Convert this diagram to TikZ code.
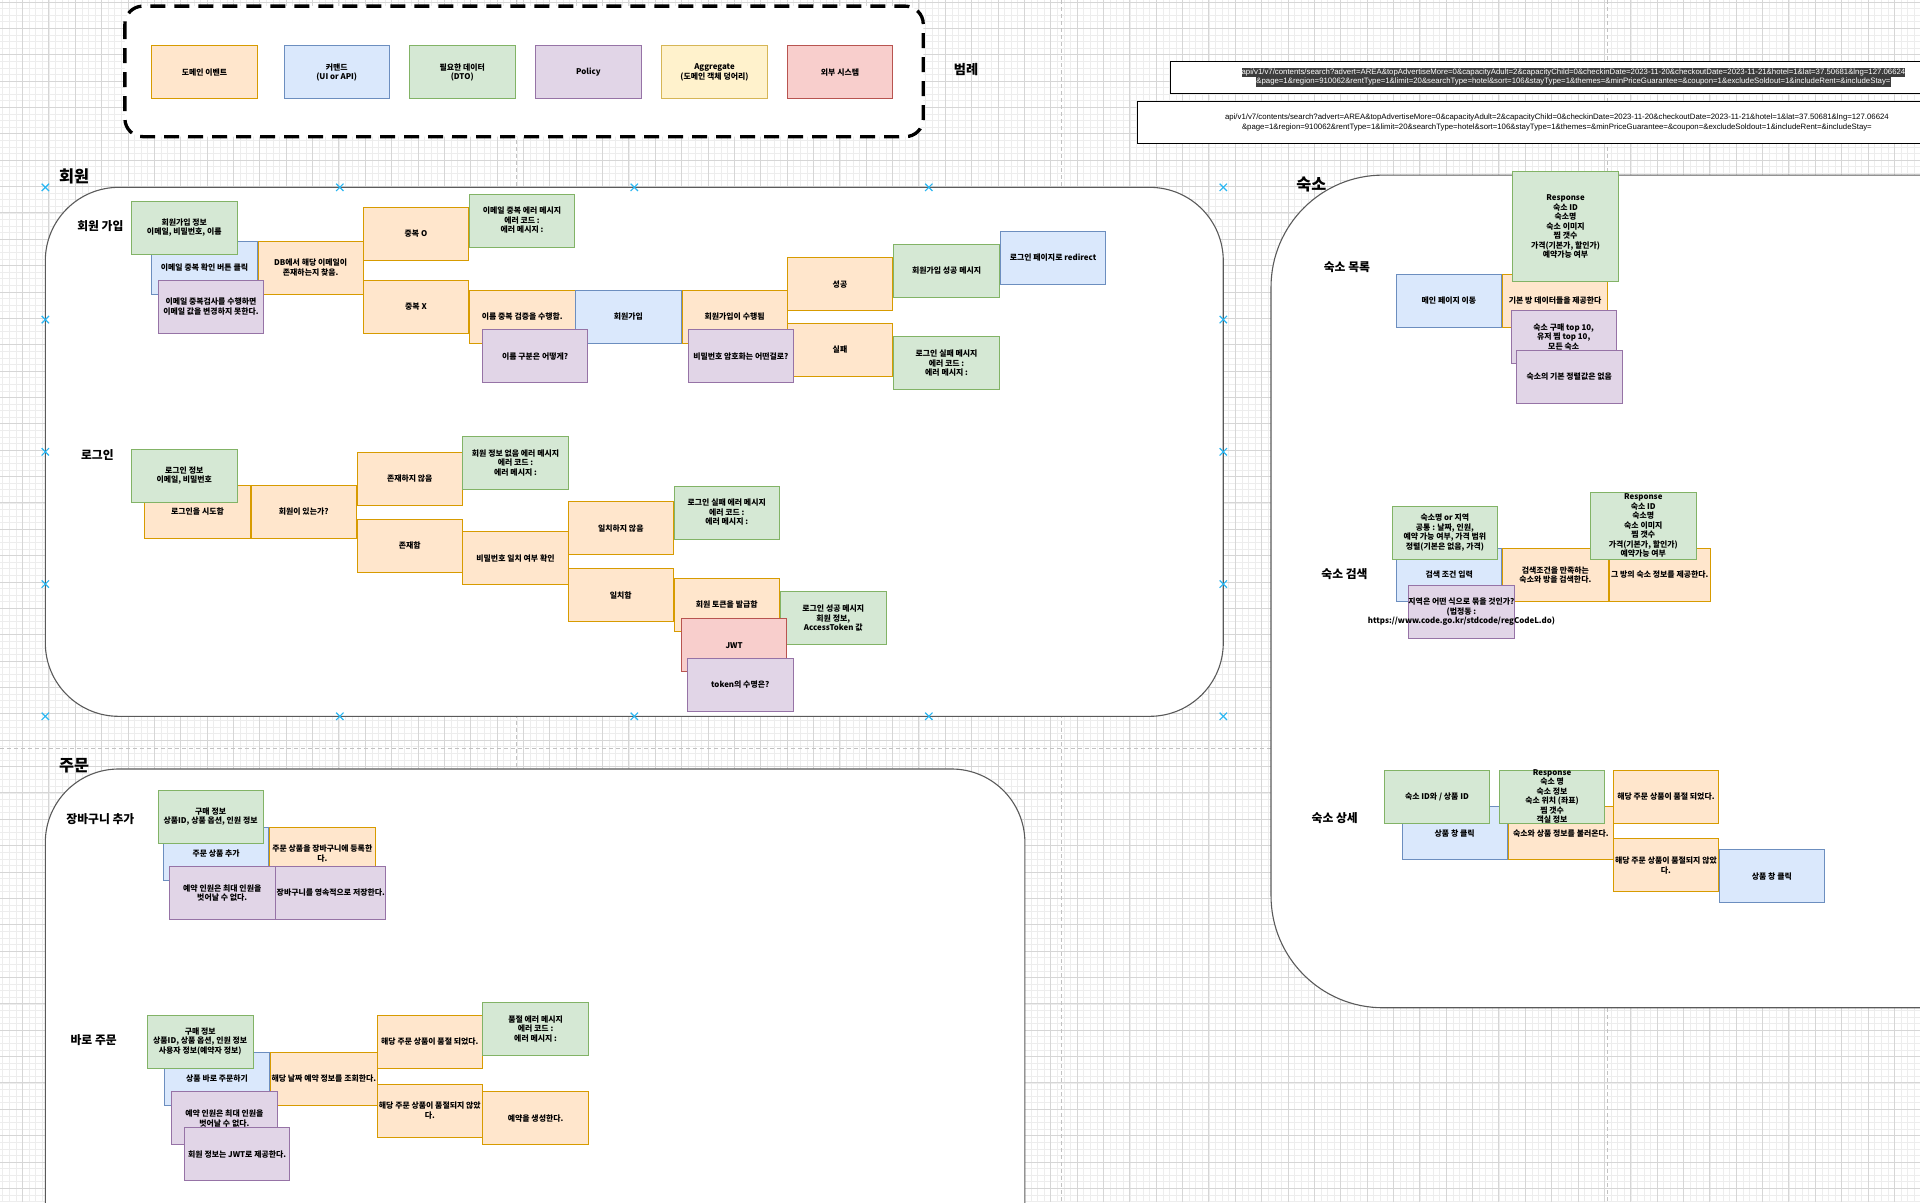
\documentclass[tikz,border=0pt]{standalone}
\usepackage{fontspec}
\setmainfont{Noto Sans CJK KR}
\newfontfamily\linkfont{Liberation Sans}
\usetikzlibrary{positioning}
\definecolor{evtFill}{HTML}{FFE6CC}
\definecolor{evtLine}{HTML}{D79B00}
\definecolor{cmdFill}{HTML}{DAE8FC}
\definecolor{cmdLine}{HTML}{6C8EBF}
\definecolor{dtoFill}{HTML}{D5E8D4}
\definecolor{dtoLine}{HTML}{82B366}
\definecolor{polFill}{HTML}{E1D5E7}
\definecolor{polLine}{HTML}{9673A6}
\definecolor{aggFill}{HTML}{FFF2CC}
\definecolor{aggLine}{HTML}{D6B656}
\definecolor{extFill}{HTML}{F8CECC}
\definecolor{extLine}{HTML}{B85450}
\definecolor{gridMinor}{HTML}{EDEDED}
\definecolor{gridMajor}{HTML}{D6D6D6}
\definecolor{pageLine}{HTML}{C2C2C2}
\definecolor{frameLine}{HTML}{5A5A5A}
\definecolor{handleBlue}{HTML}{29B6F2}
\definecolor{hilite}{HTML}{3D3D3D}
\newcommand\boxfont{\fontsize{7.9}{9.5}\selectfont\bfseries}
\newcommand\subfont{\fontsize{11.8}{14}\selectfont\bfseries}
\newcommand\headfont{\fontsize{16.3}{19}\selectfont\bfseries}
\tikzset{
  box/.style={draw, line width=.8pt, minimum width=105.4pt, minimum height=53pt,
              inner sep=1pt, align=center, font=\boxfont},
  evt/.style={box, draw=evtLine, fill=evtFill},
  cmd/.style={box, draw=cmdLine, fill=cmdFill},
  dto/.style={box, draw=dtoLine, fill=dtoFill},
  pol/.style={box, draw=polLine, fill=polFill},
  agg/.style={box, draw=aggLine, fill=aggFill},
  ext/.style={box, draw=extLine, fill=extFill},
  inbox/.style={align=center, font=\boxfont, inner sep=0pt},
  area/.style={draw=frameLine, line width=1.1pt, fill=white},
  title/.style={font=\headfont, inner sep=0pt},
  sub/.style={font=\subfont, inner sep=0pt},
  urlbox/.style={draw=black, line width=.8pt, fill=white, align=center, inner sep=0pt,
                 font=\linkfont\fontsize{7.8}{9.5}\selectfont},
  minorgrid/.style={draw=gridMinor, line width=.7pt},
  majorgrid/.style={draw=gridMajor, line width=.8pt},
  pagebreak/.style={draw=pageLine, line width=1pt, dash pattern=on 4pt off 3pt},
  handlemark/.style={draw=handleBlue, line width=1.2pt}
}
\begin{document}
\begin{tikzpicture}[x=1.2245pt, y=-1.2245pt]
  \useasboundingbox (0,0) rectangle (1568,982);
  \clip (0,0) rectangle (1568,982);
  % canvas grid and page breaks
  \foreach \i in {0,...,292} \draw[minorgrid] ({2.25+5.383*\i},0) -- ++(0,982);
  \foreach \j in {0,...,183} \draw[minorgrid] (0,{1.6+5.383*\j}) -- ++(1568,0);
  \foreach \i in {0,...,72} \draw[majorgrid] ({18.4+21.53*\i},0) -- ++(0,982);
  \foreach \j in {0,...,45} \draw[majorgrid] (0,{1.6+21.53*\j}) -- ++(1568,0);
  \foreach \px in {421.6,867,1312.5} \draw[pagebreak] (\px,0) -- ++(0,982);
  \draw[pagebreak] (0,611) -- ++(1568,0);

  % bounded contexts
  \draw[area, rounded corners=73.5pt] (37,153) rectangle (999,585);
  \draw[area, rounded corners=112pt] (1038,143) rectangle (1660,823);
  \draw[area, rounded corners=73.5pt] (37,628) rectangle (837,1060);
  \node[title] (tMember) at (60.5,144) {회원};
  \node[title] (tStay) at (1071,151) {숙소};
  \node[title] (tOrder) at (60.5,625) {주문};

  % legend
  \draw[black, line width=3.3pt, dash pattern=on 15pt off 9pt, rounded corners=18pt, fill=white]
    (102,5) rectangle (754,111.6);
  \node[evt] (lgEvt) at (167,59) {도메인 이벤트};
  \node[cmd] (lgCmd) at (275,59) {커맨드\\(UI or API)};
  \node[dto] (lgDto) at (377.5,59) {필요한 데이터\\(DTO)};
  \node[pol] (lgPol) at (480.5,59) {Policy};
  \node[agg] (lgAgg) at (583.5,59) {Aggregate\\(도메인 객체 덩어리)};
  \node[ext] (lgExt) at (686,59) {외부 시스템};
  \node[sub, font=\fontsize{13.2}{15}\selectfont\bfseries] (lgTitle) at (789,57) {범례};

  % request samples
  \node[urlbox, minimum width=805.7pt, minimum height=31.8pt] (reqA) at (1285,63)
    {\setlength\fboxsep{0pt}\colorbox{hilite}{\strut\textcolor{white}{api/v1/v7/contents/search?advert=AREA\&topAdvertiseMore=0\&capacityAdult=2\&capacityChild=0\&checkinDate=2023-11-20\&checkoutDate=2023-11-21\&hotel=1\&lat=37.50681\&lng=127.06624}}\\
     \setlength\fboxsep{0pt}\colorbox{hilite}{\strut\textcolor{white}{\&page=1\&region=910062\&rentType=1\&limit=20\&searchType=hotel\&sort=106\&stayType=1\&themes=\&minPriceGuarantee=\&coupon=1\&excludeSoldout=1\&includeRent=\&includeStay=}}};
  \node[urlbox, minimum width=838.8pt, minimum height=41.6pt] (reqB) at (1271.5,100)
    {api/v1/v7/contents/search?advert=AREA\&topAdvertiseMore=0\&capacityAdult=2\&capacityChild=0\&checkinDate=2023-11-20\&checkoutDate=2023-11-21\&hotel=1\&lat=37.50681\&lng=127.06624\\
     \&page=1\&region=910062\&rentType=1\&limit=20\&searchType=hotel\&sort=106\&stayType=1\&themes=\&minPriceGuarantee=\&coupon=\&excludeSoldout=1\&includeRent=\&includeStay=};

  % 회원 가입
  \node[sub] (sSignup) at (82,185) {회원 가입};
  \node[cmd] (suClick) at (167,218.5) {이메일 중복 확인 버튼 클릭};
  \node[evt, right=0pt of suClick] (suFind) {DB에서 해당 이메일이\\존재하는지 찾음.};
  \node[dto] (suInfo) at (150.5,186) {회원가입 정보\\이메일, 비밀번호, 이름};
  \node[pol] (suPol) at (172.3,250.5) {이메일 중복검사를 수행하면\\이메일 값을 변경하지 못한다.};
  \node[evt] (dupO) at (339.7,191) {중복 O};
  \node[dto] (dupErr) at (426.3,180) {이메일 중복 에러 메시지\\에러 코드 :\\에러 메시지 :};
  \node[evt] (dupX) at (339.7,250.7) {중복 X};
  \node[evt] (nameChk) at (426.5,258.7) {이름 중복 검증을 수행함.};
  \node[cmd, right=0pt of nameChk] (suCmd) {회원가입};
  \node[pol] (namePol) at (437,291) {이름 구분은 어떻게?};
  \node[evt, right=0pt of suCmd] (suDone) {회원가입이 수행됨};
  \node[evt] (suOk) at (686,232) {성공};
  \node[evt] (suFail) at (686,285.7) {실패};
  \node[pol] (pwPol) at (605,291) {비밀번호 암호화는 어떤걸로?};
  \node[dto] (okMsg) at (773,221) {회원가입 성공 메시지};
  \node[cmd] (redirect) at (860,210.3) {로그인 페이지로 redirect};
  \node[dto] (failMsg) at (773,296.7) {로그인 실패 메시지\\에러 코드 :\\에러 메시지 :};

  % 로그인
  \node[sub] (sLogin) at (79.5,371.5) {로그인};
  \node[evt] (liTry) at (161.3,418) {로그인을 시도함};
  \node[evt, right=0pt of liTry] (liCheck) {회원이 있는가?};
  \node[dto] (liInfo) at (150.5,388.5) {로그인 정보\\이메일, 비밀번호};
  \node[evt] (noUser) at (334.6,391) {존재하지 않음};
  \node[dto] (noUserMsg) at (421,377.8) {회원 정보 없음 에러 메시지\\에러 코드 :\\에러 메시지 :};
  \node[evt] (yesUser) at (334.6,445.5) {존재함};
  \node[evt] (pwCheck) at (421,456) {비밀번호 일치 여부 확인};
  \node[evt] (pwNo) at (507,431.5) {일치하지 않음};
  \node[dto] (pwNoMsg) at (593.5,418.5) {로그인 실패 에러 메시지\\에러 코드 :\\에러 메시지 :};
  \node[evt] (pwYes) at (507,486) {일치함};
  \node[evt] (token) at (593.5,494) {회원 토큰을 발급함};
  \node[dto] (liOkMsg) at (680.5,505) {로그인 성공 메시지\\회원 정보,\\AccessToken 값};
  \node[ext] (jwt) at (599.5,527) {JWT};
  \node[pol] (tokenPol) at (604.5,559) {token의 수명은?};

  % selection handles
  \foreach \hx/\hy in {37/153,277.5/153,518/153,758.5/153,999/153,37/261,999/261,37/369,999/369,
                       37/477,999/477,37/585,277.5/585,518/585,758.5/585,999/585}
    \draw[handlemark] (\hx-3,\hy-3) -- (\hx+3,\hy+3) (\hx-3,\hy+3) -- (\hx+3,\hy-3);

  % 숙소 목록
  \node[sub] (sList) at (1100,218) {숙소 목록};
  \node[cmd] (mainPage) at (1183.3,245.5) {메인 페이지 이동};
  \node[evt, right=0pt of mainPage] (baseData) {기본 방 데이터들을 제공한다};
  \node[dto, minimum height=109.6pt] (listResp) at (1278.5,185)
    {Response\\숙소 ID\\숙소명\\숙소 이미지\\찜 갯수\\가격(기본가, 할인가)\\예약가능 여부};
  \node[pol] (top10) at (1277,275) {숙소 구매 top 10,\\유저 찜 top 10,\\모든 숙소};
  \node[pol] (noSort) at (1281.5,307.5) {숙소의 기본 정렬값은 없음};

  % 숙소 검색
  \node[sub] (sSearch) at (1098,469) {숙소 검색};
  \node[cmd] (searchCmd) at (1183.5,469.5) {검색 조건 입력};
  \node[evt, right=0pt of searchCmd] (searchEvt) {검색조건을 만족하는\\숙소와 방을 검색한다.};
  \node[evt, minimum width=101.7pt, right=0pt of searchEvt] (searchRes) {그 방의 숙소 정보를 제공한다.};
  \node[dto] (searchDto) at (1180,434.8) {숙소명 or 지역\\공통 : 날짜, 인원,\\예약 가능 여부, 가격 범위\\정렬(기본은 없음, 가격)};
  \node[dto, minimum height=66.7pt,
        label={[inbox]center:{Response\\숙소 ID\\숙소명\\숙소 이미지\\찜 갯수\\가격(기본가, 할인가)\\예약가능 여부}}]
    (searchResp) at (1342,429.3) {};
  \node[pol, label={[inbox]center:{지역은 어떤 식으로 묶을 것인가?\\(법정동 :\\https://www.code.go.kr/stdcode/regCodeL.do)}}]
    (regionPol) at (1193.5,499.5) {};

  % 숙소 상세
  \node[sub] (sDetail) at (1090,668) {숙소 상세};
  \node[cmd] (detCmd) at (1188,680.5) {상품 창 클릭};
  \node[evt, right=0pt of detCmd] (detEvt) {숙소와 상품 정보를 불러온다.};
  \node[dto] (detId) at (1173.5,650.5) {숙소 ID와 / 상품 ID};
  \node[dto, label={[inbox]center:{Response\\숙소 명\\숙소 정보\\숙소 위치 (좌표)\\찜 갯수\\객실 정보}}]
    (detResp) at (1267.5,650.5) {};
  \node[evt] (soldOut) at (1360.5,650.5) {해당 주문 상품이 품절 되었다.};
  \node[evt] (notSold) at (1360.5,706.7) {해당 주문 상품이 품절되지 않았\\다.};
  \node[cmd] (detCmd2) at (1447,715.5) {상품 창 클릭};

  % 장바구니 추가
  \node[sub] (sCart) at (82,669) {장바구니 추가};
  \node[cmd] (cartCmd) at (176.5,697) {주문 상품 추가};
  \node[evt, right=0pt of cartCmd] (cartEvt) {주문 상품을 장바구니에 등록한\\다.};
  \node[dto] (cartDto) at (172,667) {구매 정보\\상품ID, 상품 옵션, 인원 정보};
  \node[pol] (cartPol1) at (181.5,729.3) {예약 인원은 최대 인원을\\벗어날 수 없다.};
  \node[pol, right=0pt of cartPol1] (cartPol2) {장바구니를 영속적으로 저장한다.};

  % 바로 주문
  \node[sub] (sBuy) at (76.5,849) {바로 주문};
  \node[cmd] (buyCmd) at (177.3,880.7) {상품 바로 주문하기};
  \node[evt, right=0pt of buyCmd] (buyEvt) {해당 날짜 예약 정보를 조회한다.};
  \node[dto] (buyDto) at (163.5,850.5) {구매 정보\\상품ID, 상품 옵션, 인원 정보\\사용자 정보(예약자 정보)};
  \node[pol] (buyPol1) at (183.2,913.3) {예약 인원은 최대 인원을\\벗어날 수 없다.};
  \node[pol] (buyPol2) at (193.7,942.7) {회원 정보는 JWT로 제공한다.};
  \node[evt] (soldOut2) at (351,850.5) {해당 주문 상품이 품절 되었다.};
  \node[dto] (soldMsg) at (437.4,840) {품절 에러 메시지\\에러 코드 :\\에러 메시지 :};
  \node[evt] (notSold2) at (351,907) {해당 주문 상품이 품절되지 않았\\다.};
  \node[evt] (makeRes) at (437.4,913.3) {예약을 생성한다.};
\end{tikzpicture}
\end{document}
